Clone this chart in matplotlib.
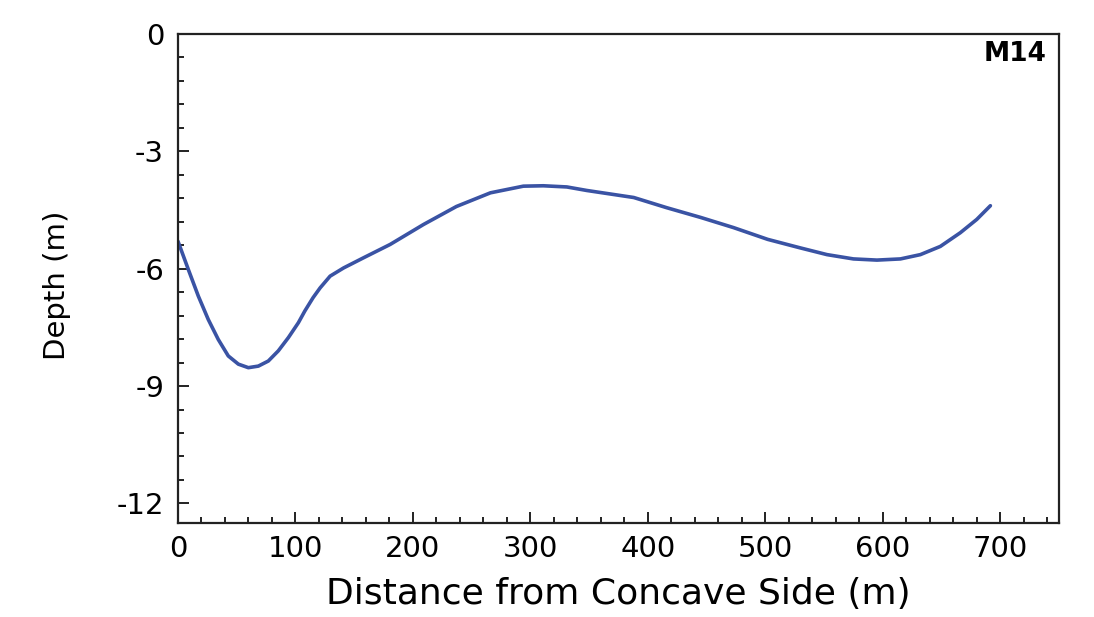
import numpy as np
import matplotlib
matplotlib.use("Agg")
import matplotlib.pyplot as plt
from matplotlib.ticker import MultipleLocator

plt.rcParams['font.family'] = ['DejaVu Sans']

# cross-section profile
distance = [0, 8.8, 17.3, 25.8, 34.3, 42.8, 51.4, 59.9, 68.4, 76.9, 85.4, 94, 102.5,
            108, 115, 121, 129.5, 141, 158, 180.6, 209, 237, 266, 294, 311, 331, 348,
            388, 416, 445, 473, 502, 530, 552.5, 575, 595, 615, 632, 649, 666, 680, 691.6]
depth = [-5.30, -6.02, -6.70, -7.30, -7.81, -8.23, -8.44, -8.53, -8.49, -8.36, -8.10,
         -7.76, -7.38, -7.08, -6.74, -6.49, -6.19, -5.98, -5.72, -5.38, -4.87, -4.41,
         -4.06, -3.89, -3.88, -3.91, -4.00, -4.18, -4.44, -4.69, -4.95, -5.25, -5.47,
         -5.64, -5.75, -5.78, -5.75, -5.64, -5.43, -5.08, -4.74, -4.39]
section = "M14"

fig = plt.figure(figsize=(10.94, 6.17), dpi=100)
ax = fig.add_axes([0.1627, 0.1524, 0.8053, 0.7925])

ax.plot(distance, depth, color='#3a53a4', lw=2.6, solid_capstyle='round',
        solid_joinstyle='round')

ax.set_xlim(0, 750)
ax.set_ylim(-12.5, 0)
ax.xaxis.set_major_locator(MultipleLocator(100))
ax.xaxis.set_minor_locator(MultipleLocator(20))
ax.yaxis.set_major_locator(MultipleLocator(3))
ax.yaxis.set_minor_locator(MultipleLocator(0.6))
ax.yaxis.set_major_formatter(lambda v, p: f"{v:g}".replace("\u2212", "-"))

for s in ax.spines.values():
    s.set_linewidth(1.6)
    s.set_color('#222222')

ax.tick_params(which='both', direction='in', top=False, right=False, width=1.4, color='#222222')
ax.tick_params(which='major', length=8, labelsize=21)
ax.tick_params(which='minor', length=4.5)
ax.tick_params(axis='y', which='major', pad=10)
ax.tick_params(axis='x', which='major', pad=9)

ax.set_xlabel("Distance from Concave Side (m)", fontsize=26)
ax.set_ylabel("Depth (m)", fontsize=21)
ax.xaxis.set_label_coords(0.5, -0.110)
ax.yaxis.set_label_coords(-0.121, 0.487)

ax.text(0.986, 0.985, section, transform=ax.transAxes, ha='right', va='top',
        fontsize=19, fontweight='bold')

fig.savefig("out.png", dpi=100)
